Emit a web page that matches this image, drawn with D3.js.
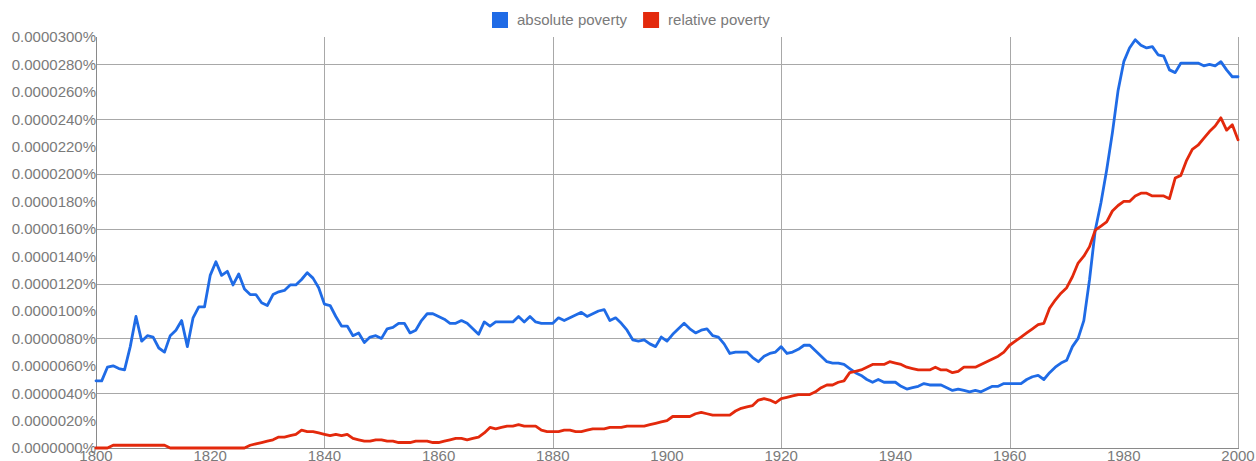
<!DOCTYPE html>
<html>
<head>
<meta charset="utf-8">
<script src="https://cdn.jsdelivr.net/npm/d3@7"></script>
<style>
html,body{margin:0;padding:0;background:#fff;}
svg{display:block;font-family:"Liberation Sans",Arial,sans-serif;}
</style>
</head>
<body>
<svg id="chart" width="1256" height="461"></svg>
<script>
// values in units of 0.0000001 %
const startYear = 1800;
const endYear = 2000;
const seriesNames = ["absolute poverty", "relative poverty"];
const seriesColors = ["#1f6be6", "#e3290c"];
const absolutePoverty = [
  49, 49, 59, 60, 58, 57, 74, 96, 78, 82,
  81, 73, 70, 82, 86, 93, 74, 95, 103, 103,
  126, 136, 126, 129, 119, 127, 116, 112, 112, 106,
  104, 112, 114, 115, 119, 119, 123, 128, 124, 117,
  105, 104, 96, 89, 89, 82, 84, 77, 81, 82,
  80, 87, 88, 91, 91, 84, 86, 93, 98, 98,
  96, 94, 91, 91, 93, 91, 87, 83, 92, 89,
  92, 92, 92, 92, 96, 92, 96, 92, 91, 91,
  91, 95, 93, 95, 97, 99, 96, 98, 100, 101,
  93, 95, 91, 86, 79, 78, 79, 76, 74, 81,
  78, 83, 87, 91, 87, 84, 86, 87, 82, 81,
  76, 69, 70, 70, 70, 66, 63, 67, 69, 70,
  74, 69, 70, 72, 75, 75, 71, 67, 63, 62,
  62, 61, 58, 55, 53, 50, 48, 50, 48, 48,
  48, 45, 43, 44, 45, 47, 46, 46, 46, 44,
  42, 43, 42, 41, 42, 41, 43, 45, 45, 47,
  47, 47, 47, 50, 52, 53, 50, 55, 59, 62,
  64, 74, 80, 93, 123, 159, 179, 203, 230, 261,
  282, 292, 298, 294, 292, 293, 287, 286, 276, 274,
  281, 281, 281, 281, 279, 280, 279, 282, 276, 271,
  271
];
const relativePoverty = [
  0, 0, 0, 2, 2, 2, 2, 2, 2, 2,
  2, 2, 2, 0, 0, 0, 0, 0, 0, 0,
  0, 0, 0, 0, 0, 0, 0, 2, 3, 4,
  5, 6, 8, 8, 9, 10, 13, 12, 12, 11,
  10, 9, 10, 9, 10, 7, 6, 5, 5, 6,
  6, 5, 5, 4, 4, 4, 5, 5, 5, 4,
  4, 5, 6, 7, 7, 6, 7, 8, 11, 15,
  14, 15, 16, 16, 17, 16, 16, 16, 13, 12,
  12, 12, 13, 13, 12, 12, 13, 14, 14, 14,
  15, 15, 15, 16, 16, 16, 16, 17, 18, 19,
  20, 23, 23, 23, 23, 25, 26, 25, 24, 24,
  24, 24, 27, 29, 30, 31, 35, 36, 35, 33,
  36, 37, 38, 39, 39, 39, 41, 44, 46, 46,
  48, 49, 55, 56, 57, 59, 61, 61, 61, 63,
  62, 61, 59, 58, 57, 57, 57, 59, 57, 57,
  55, 56, 59, 59, 59, 61, 63, 65, 67, 70,
  75, 78, 81, 84, 87, 90, 91, 102, 108, 113,
  117, 125, 135, 140, 147, 159, 162, 165, 173, 177,
  180, 180, 184, 186, 186, 184, 184, 184, 182, 197,
  199, 210, 218, 221, 226, 231, 235, 241, 232, 236,
  225
];
const yTicks = [0, 20, 40, 60, 80, 100, 120, 140, 160, 180, 200, 220, 240, 260, 280, 300];
const yGrid = [40, 80, 120, 160, 200, 240, 280];
const xTicks = [1800, 1820, 1840, 1860, 1880, 1900, 1920, 1940, 1960, 1980, 2000];
const xGrid = [1840, 1880, 1920, 1960, 2000];

const svg = d3.select("#chart");
const plotL = 96, plotR = 1238, plotT = 37, plotB = 448;
const x = d3.scaleLinear().domain([startYear, endYear]).range([plotL, plotR]);
const y = d3.scaleLinear().domain([0, 300]).range([plotB, plotT]);
const fmt = v => (v * 1e-7).toFixed(7) + "%";
const textColor = "#7a7a7a";
const fs = "15px";

// grid
svg.append("g").selectAll("line").data(yGrid).join("line")
  .attr("x1", plotL).attr("x2", plotR)
  .attr("y1", d => Math.round(y(d)) + 0.5).attr("y2", d => Math.round(y(d)) + 0.5)
  .attr("stroke", "#a8a8a8").attr("stroke-width", 1);
svg.append("g").selectAll("line").data(xGrid).join("line")
  .attr("x1", d => Math.round(x(d)) + 0.5).attr("x2", d => Math.round(x(d)) + 0.5)
  .attr("y1", plotT).attr("y2", plotB)
  .attr("stroke", "#a8a8a8").attr("stroke-width", 1);

// axes lines
svg.append("line").attr("x1", plotL + 0.5).attr("x2", plotL + 0.5)
  .attr("y1", plotT).attr("y2", plotB).attr("stroke", "#8a8a8a");
svg.append("line").attr("x1", plotL).attr("x2", plotR + 1)
  .attr("y1", plotB + 0.5).attr("y2", plotB + 0.5).attr("stroke", "#8a8a8a");

// y labels
svg.append("g").selectAll("text").data(yTicks).join("text")
  .attr("x", plotL).attr("y", d => y(d))
  .attr("dy", "0.36em")
  .attr("text-anchor", "end")
  .attr("font-size", fs).attr("fill", textColor)
  .text(d => fmt(d));

// x labels
svg.append("g").selectAll("text").data(xTicks).join("text")
  .attr("x", d => x(d)).attr("y", 461)
  .attr("text-anchor", "middle")
  .attr("font-size", fs).attr("fill", textColor)
  .text(d => d);

// lines
const years = d3.range(startYear, endYear + 1);
const line = d3.line().x((d, i) => x(years[i])).y(d => y(d));
[absolutePoverty, relativePoverty].forEach((s, k) => {
  svg.append("path").datum(s)
    .attr("d", line)
    .attr("fill", "none")
    .attr("stroke", seriesColors[k])
    .attr("stroke-width", 2.8)
    .attr("stroke-linejoin", "round")
    .attr("stroke-linecap", "round");
});

// legend
const lg = svg.append("g");
let lx = 492;
seriesNames.forEach((name, k) => {
  lg.append("rect").attr("x", lx).attr("y", 12).attr("width", 16).attr("height", 16)
    .attr("fill", seriesColors[k]);
  const t = lg.append("text").attr("x", lx + 25).attr("y", 25)
    .attr("font-size", fs).attr("fill", textColor).text(name);
  lx = lx + 25 + t.node().getComputedTextLength() + 16;
});
</script>
</body>
</html>
